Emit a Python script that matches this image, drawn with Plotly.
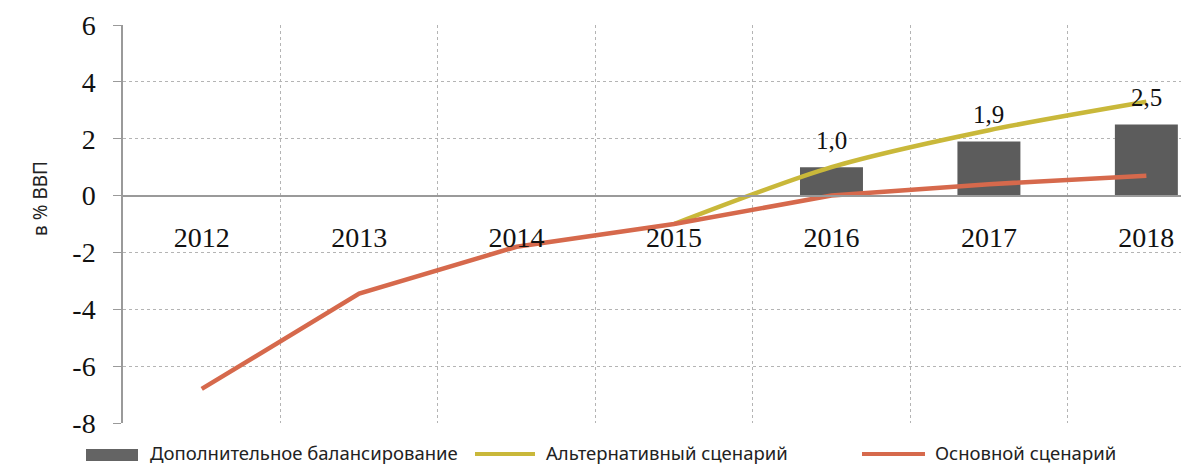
import plotly.graph_objects as go

# Budget balance scenarios, % of GDP
years = ["2012", "2013", "2014", "2015", "2016", "2017", "2018"]
base_scenario = [-6.8, -3.45, -1.8, -1.0, 0.0, 0.4, 0.7]
alt_years = ["2015", "2016", "2017", "2018"]
alt_scenario = [-1.0, 1.0, 2.3, 3.3]
extra_years = ["2016", "2017", "2018"]
extra_balancing = [1.0, 1.9, 2.5]

y_ticks = [-8, -6, -4, -2, 0, 2, 4, 6]
y_ticktext = [str(v) for v in y_ticks]

name_extra = "Дополнительное балансирование"
name_alt = "Альтернативный сценарий"
name_base = "Основной сценарий"

GRAY = "#5c5c5c"
YELLOW = "#c9b83a"
ORANGE = "#d6694c"
SERIF = "Liberation Serif"
SANS = "Noto Sans"

W, H = 1181, 464
L, R, T, B = 123, 0, 25, 41
PW, PH = W - L - R, H - T - B


def px_x(x):
    return (x - L) / PW


def px_y(y):
    return (H - B - y) / PH


fig = go.Figure()
fig.add_trace(go.Bar(x=extra_years, y=extra_balancing, name=name_extra,
                     marker=dict(color=GRAY, line=dict(width=0)), width=0.4))
fig.add_trace(go.Scatter(x=alt_years, y=alt_scenario, name=name_alt, mode="lines",
                         line=dict(color=YELLOW, width=4.5, shape="spline", smoothing=0.8)))
fig.add_trace(go.Scatter(x=years, y=base_scenario, name=name_base, mode="lines",
                         line=dict(color=ORANGE, width=4.5)))

# value labels above the bars (category index used as x position)
for xv, yv in zip(extra_years, extra_balancing):
    fig.add_annotation(x=years.index(xv), y=yv, text=f"{yv:.1f}".replace(".", ","),
                       showarrow=False, yanchor="middle", yshift=27,
                       font=dict(family=SERIF, size=25, color="#111"))

# y-axis title
fig.add_annotation(xref="paper", yref="paper", x=px_x(25), y=px_y(199),
                   text="в % ВВП", textangle=-90, showarrow=False,
                   font=dict(family=SANS, size=19, color="#222"))

# legend drawn along the bottom edge
leg_y = 452
fig.add_shape(type="rect", xref="paper", yref="paper",
              x0=px_x(86), x1=px_x(138), y0=px_y(449), y1=px_y(461),
              fillcolor="#646464", line=dict(width=0))
fig.add_shape(type="line", xref="paper", yref="paper",
              x0=px_x(475), x1=px_x(535), y0=px_y(leg_y + 2), y1=px_y(leg_y + 2),
              line=dict(color=YELLOW, width=4))
fig.add_shape(type="line", xref="paper", yref="paper",
              x0=px_x(862), x1=px_x(925), y0=px_y(leg_y + 2), y1=px_y(leg_y + 2),
              line=dict(color=ORANGE, width=4))
for x0, label in [(148, name_extra), (544, name_alt), (933, name_base)]:
    fig.add_annotation(xref="paper", yref="paper", x=px_x(x0), y=px_y(leg_y),
                       xanchor="left", yanchor="middle", text=label, showarrow=False,
                       font=dict(family=SANS, size=18.5, color="#222"))

fig.update_layout(
    width=W, height=H,
    margin=dict(l=L, r=R, t=T, b=B, pad=0),
    paper_bgcolor="white", plot_bgcolor="white",
    showlegend=False,
    xaxis=dict(
        type="category", categoryorder="array", categoryarray=years,
        range=[-0.5, 6.22],
        anchor="free", position=8 / 14,
        showline=True, linecolor="#9a9a9a", linewidth=1.5,
        tickson="boundaries", ticks="",
        showgrid=True, gridcolor="#b4b4b4", griddash="dot", gridwidth=1,
        ticklabelstandoff=17,
        tickfont=dict(family=SERIF, size=28, color="#111"),
    ),
    yaxis=dict(
        range=[-8, 6], tickvals=y_ticks, ticktext=y_ticktext,
        showline=True, linecolor="#9a9a9a", linewidth=1.5,
        ticks="outside", ticklen=8, tickcolor="#9a9a9a",
        showgrid=True, gridcolor="#b4b4b4", griddash="dot", gridwidth=1,
        zeroline=False,
        ticklabelstandoff=12,
        tickfont=dict(family=SERIF, size=28, color="#111"),
    ),
)

fig.write_html("out.html")
